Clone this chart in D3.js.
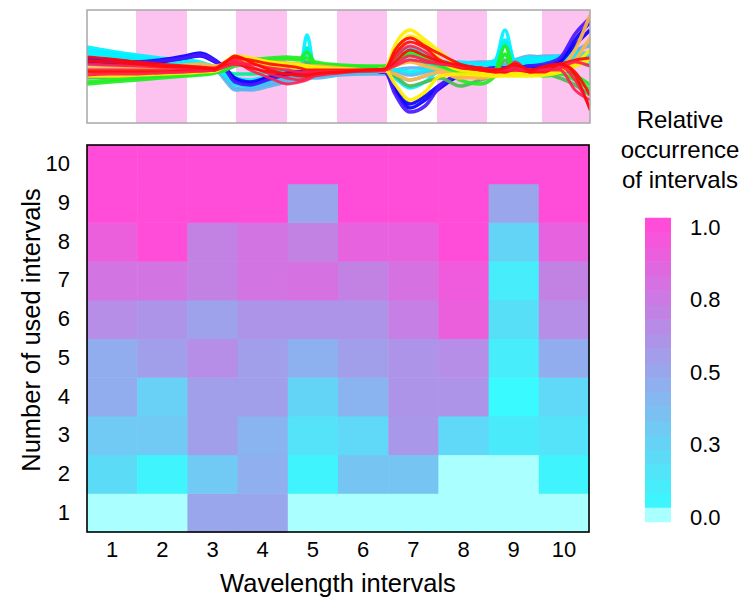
<!DOCTYPE html>
<html><head><meta charset="utf-8">
<script src="https://cdn.jsdelivr.net/npm/d3@7"></script>
<style>body{margin:0;background:#fff} text{font-family:"Liberation Sans",Arial,sans-serif;fill:#000}</style>
</head><body><svg id="c" width="747" height="605"></svg>
<script>
// ---------------- DATA ----------------
const intervals = [1,2,3,4,5,6,7,8,9,10];
const usedCounts = [1,2,3,4,5,6,7,8,9,10];
// occurrence[n-1][interval-1]
const occ1  = [0,0,0.5,0.5,0,0,0,0,0,0];
const occ2  = [0.2,0.06,0.3,0.45,0.06,0.33,0.33,0,0,0.06];
const occ3  = [0.3,0.3,0.54,0.42,0.16,0.22,0.58,0.22,0.12,0.16];
const occ4  = [0.46,0.26,0.54,0.54,0.24,0.42,0.6,0.6,0.03,0.22];
const occ5  = [0.46,0.54,0.64,0.54,0.44,0.54,0.6,0.64,0.1,0.46];
const occ6  = [0.64,0.6,0.52,0.6,0.6,0.6,0.72,0.9,0.18,0.64];
const occ7  = [0.78,0.78,0.7,0.78,0.8,0.7,0.8,0.92,0.1,0.7];
const occ8  = [0.9,1,0.7,0.78,0.7,0.88,0.88,1,0.24,0.88];
const occ9  = [1,1,1,1,0.5,1,1,1,0.5,1];
const occ10 = [1,1,1,1,1,1,1,1,1,1];
const occurrence = [occ1,occ2,occ3,occ4,occ5,occ6,occ7,occ8,occ9,occ10];

const colorTickValues = [0,0.25,0.5,0.75,1];
const colorTickLabels = ["0.0","0.3","0.5","0.8","1.0"];

// spectra (wavelength index, signal)
const specX = [0,23,50,73,98,113,128,138,148,163,183,200,213,220,228,253,283,298,308,323,338,353,373,393,408,418,428,443,458,473,488,503];
const intervalEdges = [0,49,100,149,200,250,300,350,400,455,503];
const cyan1 = [20,17,13,10,8,6,2,-2,-10,-13,-7,-4,0,35,-1,-1,-1,0,10,15,10,4,6,4,8,40,8,10,10,12,15,12];
const cyan2 = [18,15,11,8,6,4,0,-5,-14,-16,-10,-6,-4,18,-3,-2,-2,-1,-8,-18,-12,0,3,2,4,25,4,6,8,10,12,8];
const cyan3 = [15,13,10,7,5,3,0,-3,-8,-10,-6,-4,-2,8,-2,-1,-1,0,0,-2,0,2,4,3,5,15,5,7,10,8,10,6];
const cyan4 = [23,19,15,12,10,8,3,-1,-8,-11,-6,-3,0,20,0,0,0,0,15,22,16,8,8,6,10,30,10,12,12,14,18,14];
const blue1 = [12,10,8,10,14,17,10,2,-10,-14,-8,-4,-2,-2,-2,-1,-1,-2,-20,-38,-30,-18,-5,0,2,2,2,4,4,10,30,48];
const blue2 = [8,7,6,8,12,14,8,2,-8,-12,-7,-3,-2,-2,-2,-1,-1,-2,-18,-34,-26,-15,-4,0,1,1,1,3,2,8,25,40];
const blue3 = [10,9,8,9,12,15,9,1,-12,-15,-9,-5,-3,-3,-2,-1,-1,-2,-24,-42,-36,-16,-4,0,2,2,2,4,6,12,36,52];
const lblue1 = [10,8,7,6,6,4,0,-8,-18,-20,-16,-12,-10,-8,-8,-5,-4,-4,-2,-5,-2,2,7,6,4,4,8,12,14,14,20,24];
const lblue2 = [6,4,3,3,4,2,0,-6,-14,-16,-14,-10,-7,-6,-6,-4,-3,-3,0,2,2,4,5,4,3,4,6,8,10,10,14,18];
const lblue3 = [8,6,5,5,6,6,2,-10,-20,-18,-12,-9,-8,-7,-6,-4,-3,-3,-5,-10,-6,0,6,8,8,6,10,14,12,10,18,28];
const green1 = [-12,-10,-8,-6,-5,-4,-2,2,8,10,12,13,12,18,8,5,4,4,10,15,10,4,-2,-4,0,24,0,0,-2,0,-5,-15];
const green2 = [-8,-7,-6,-5,-4,-3,-2,0,4,6,7,6,4,8,2,2,2,1,-6,-16,-12,-8,-16,-10,-4,10,-2,-2,-4,-8,-15,-25];
const green3 = [-14,-12,-10,-8,-6,-5,-3,0,6,8,10,11,10,12,6,4,3,3,12,18,14,6,-10,-14,-6,16,-4,-3,-6,-4,-10,-20];
const sgreen1 = [0,0,0,1,1,1,0,-2,-4,-4,-2,0,0,22,2,1,1,1,5,10,6,2,4,4,6,28,6,6,6,8,8,4];
const yellow1 = [-4,-4,-3,-2,-2,-1,0,8,14,12,8,6,5,4,3,1,0,1,25,40,30,18,3,-2,-4,-4,-4,-4,-2,0,4,10];
const yellow2 = [-6,-6,-5,-4,-3,-2,-1,4,8,7,5,4,3,3,2,0,0,0,-14,-30,-22,-6,-4,-5,-6,-6,-6,-6,-5,-2,4,12];
const yellow3 = [-1,-1,0,0,0,0,0,6,12,10,7,5,4,3,2,1,0,1,18,34,26,10,0,-2,-3,-3,-3,-3,-2,0,6,20];
const orange1 = [2,2,3,4,5,6,4,6,10,10,8,7,6,4,4,2,0,0,4,8,4,0,-6,-8,-6,-4,-2,-2,-2,2,20,55];
const orange2 = [-1,-1,0,0,1,2,2,4,7,6,4,2,2,1,1,0,-1,-1,-4,-10,-6,-2,-8,-6,-4,-3,-2,-3,-4,-2,10,32];
const red1 = [13,11,8,6,4,3,2,8,12,10,6,4,2,0,0,0,0,1,20,32,24,16,6,2,0,0,4,0,2,6,10,12];
const red2 = [6,5,4,3,2,1,0,6,10,4,-4,-8,-10,-8,-6,-3,-1,0,12,24,18,8,4,2,0,-2,8,-2,0,4,-10,-38];
const red3 = [0,0,0,0,0,0,0,5,8,0,-8,-14,-12,-10,-6,-2,0,0,6,14,10,6,4,0,-2,0,2,-2,0,0,-20,-30];
const red4 = [-2,-2,-2,-2,-1,-1,0,4,6,2,-2,-4,-4,-4,-3,-1,0,0,8,20,14,8,2,0,-2,-2,0,-2,-2,6,-2,-25];
const red5 = [-5,-4,-4,-3,-2,-1,0,3,6,6,2,0,-2,-2,-2,-1,-1,0,4,10,8,6,4,2,0,0,0,0,0,2,8,4];
const red6 = [9,8,6,4,3,2,1,7,14,8,0,-4,-6,-6,-4,-2,0,1,16,28,22,10,5,2,0,2,6,0,4,6,-5,-40];

const spectra = [
  ["lblue", lblue1],["lblue", lblue2],["lblue", lblue3],
  ["sgreen", sgreen1],
  ["cyan", cyan1],["cyan", cyan2],["cyan", cyan3],["cyan", cyan4],
  ["blue", blue1],["blue", blue2],["violet", blue3],
  ["green2", green2],["green", green1],["green", green3],
  ["orange", orange1],["orange", orange2],
  ["yellow", yellow1],["yellow", yellow2],["yellow", yellow3],
  ["red", red1],["pred", red2],["pred", red3],["red", red4],["pred", red5],["red", red6]
];

// ---------------- STYLES ----------------
const groupColor = {lblue:"#5ab4ee", cyan:"#00f0ff", blue:"#0a00ff", violet:"#4a18ff", green:"#22ee22", green2:"#4cbb55",
  sgreen:"#00ee99", yellow:"#ffee00", orange:"#ffb548", red:"#ff0a0a", pred:"#ff2050"};
const groupWidth = g => (g==="red"||g==="pred") ? 2.8 : 3.6;

const svg = d3.select("#c");

// ---------------- TOP SPECTRA PANEL ----------------
const sx = d3.scaleLinear().domain([0,503]).range([87,590]);
const sy = d3.scaleLinear().domain([-53,60]).range([123,10]);
const topG = svg.append("g");
topG.append("clipPath").attr("id","clipTop").append("rect")
  .attr("x",87).attr("y",10).attr("width",503).attr("height",113);
topG.selectAll("rect.band").data(d3.pairs(intervalEdges)).join("rect")
  .attr("class","band")
  .attr("x",d=>sx(d[0])).attr("width",d=>sx(d[1])-sx(d[0]))
  .attr("y",10).attr("height",113)
  .attr("fill",(d,i)=> i%2 ? "#fcc3f0" : "#ffffff");
const line = d3.line().x((d,i)=>sx(specX[i])).y(d=>sy(d)).curve(d3.curveMonotoneX);
topG.append("g").attr("clip-path","url(#clipTop)")
  .selectAll("path").data(spectra).join("path")
  .attr("d",d=>line(d[1]))
  .attr("fill","none")
  .attr("stroke",d=>groupColor[d[0]])
  .attr("stroke-width",d=>groupWidth(d[0]))
  .attr("stroke-opacity",0.92);
topG.append("rect").attr("x",87).attr("y",10).attr("width",503).attr("height",113)
  .attr("fill","none").attr("stroke","#a8a8a8").attr("stroke-width",1.5);

// ---------------- HEATMAP ----------------
const x = d3.scaleBand().domain(intervals).range([87,589]).padding(0);
const y = d3.scaleBand().domain(usedCounts).range([532,145]).padding(0);
const col = d3.scaleLinear().domain([0,1]).range(["#33ffff","#ff4dd9"]).interpolate(d3.interpolateRgb);
const zeroColor = "#aaffff";
const colorOf = v => v===0 ? zeroColor : col(v);

const cells = [];
occurrence.forEach((row,ri)=>row.forEach((v,ci)=>cells.push({n:usedCounts[ri], k:intervals[ci], v})));
svg.append("g").selectAll("rect").data(cells).join("rect")
  .attr("x",d=>x(d.k)).attr("y",d=>y(d.n))
  .attr("width",x.bandwidth()+0.5).attr("height",y.bandwidth()+0.5)
  .attr("fill",d=>colorOf(d.v));
svg.append("rect").attr("x",87).attr("y",145).attr("width",502).attr("height",387)
  .attr("fill","none").attr("stroke","#000").attr("stroke-width",1.6);

// axes
const xAxis = svg.append("g").attr("transform","translate(0,532)")
  .call(d3.axisBottom(x).tickSize(0).tickPadding(8));
xAxis.select(".domain").remove();
xAxis.selectAll("text").attr("font-size",22).attr("dy","0.71em").attr("y",9);
const yAxis = svg.append("g").attr("transform","translate(87,0)")
  .call(d3.axisLeft(y).tickSize(0).tickPadding(17));
yAxis.select(".domain").remove();
yAxis.selectAll("text").attr("font-size",22);

svg.append("text").attr("x",338).attr("y",592).attr("text-anchor","middle")
  .attr("font-size",25.5).text("Wavelength intervals");
svg.append("text").attr("transform","translate(40,330) rotate(-90)").attr("text-anchor","middle")
  .attr("font-size",25.5).text("Number of used intervals");

// ---------------- COLORBAR ----------------
const cb = d3.scaleLinear().domain([0,1]).range([515,225]);
const steps = d3.range(0.025,1.0249,0.05);
const cbg = svg.append("g");
cbg.selectAll("rect").data(steps).join("rect")
  .attr("x",645).attr("width",26)
  .attr("y",d=>cb(d+0.05)).attr("height",cb(0)-cb(0.05)+0.6)
  .attr("fill",d=>col(d+0.025));
cbg.append("rect").attr("x",645).attr("width",26).attr("y",cb(0.025)).attr("height",cb(-0.025)-cb(0.025))
  .attr("fill",zeroColor);
cbg.selectAll("text.tk").data(colorTickValues).join("text").attr("class","tk")
  .attr("x",690).attr("y",d=>cb(d)+2).attr("dy","0.35em").attr("font-size",22)
  .text((d,i)=>colorTickLabels[i]);
const titleLines = ["Relative","occurrence","of intervals"];
cbg.selectAll("text.tt").data(titleLines).join("text").attr("class","tt")
  .attr("x",680).attr("y",(d,i)=>128+i*30).attr("text-anchor","middle").attr("font-size",24)
  .text(d=>d);
</script></body></html>
